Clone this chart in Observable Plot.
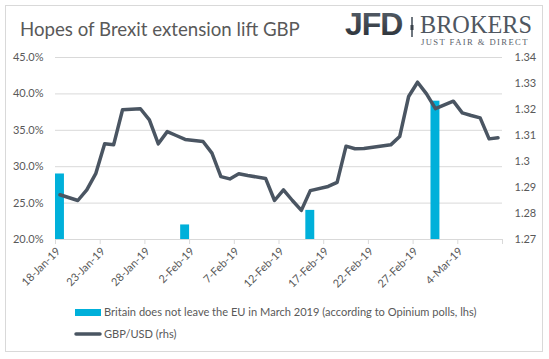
<!DOCTYPE html>
<html><head><meta charset="utf-8">
<script src="https://cdn.jsdelivr.net/npm/d3@7"></script>
<script src="https://cdn.jsdelivr.net/npm/@observablehq/plot@0.6"></script>
<style>
html,body{margin:0;padding:0;background:#fff;}
#wrap{position:relative;width:549px;height:359px;overflow:hidden;font-family:Lato,"Open Sans",sans-serif;color:#595959;}
#frame{position:absolute;left:5px;top:5px;width:538px;height:347px;border:1px solid #d9d9d9;box-sizing:border-box;}
#chart{position:absolute;left:0;top:40px;}
#overlay{position:absolute;left:0;top:0;}
</style>
</head><body>
<div id="wrap">
  <div id="frame"></div>
  <div id="chart"></div>
  <svg id="overlay" width="549" height="359"></svg>
</div>
<script>
// ---- data ----
const lineDates = ["2019-01-18","2019-01-20","2019-01-21","2019-01-22","2019-01-23","2019-01-24","2019-01-25",
  "2019-01-27","2019-01-28","2019-01-29","2019-01-30","2019-01-31","2019-02-01",
  "2019-02-03","2019-02-04","2019-02-05","2019-02-06","2019-02-07","2019-02-08",
  "2019-02-10","2019-02-11","2019-02-12","2019-02-13","2019-02-14","2019-02-15",
  "2019-02-17","2019-02-18","2019-02-19","2019-02-20","2019-02-21","2019-02-22",
  "2019-02-24","2019-02-25","2019-02-26","2019-02-27","2019-02-28","2019-03-01",
  "2019-03-03","2019-03-04","2019-03-05","2019-03-06","2019-03-07","2019-03-08"];
const gbpusd = [1.2872,1.2850,1.2891,1.2953,1.3068,1.3064,1.3199,
  1.3203,1.3160,1.3068,1.3115,1.3100,1.3085,
  1.3077,1.3032,1.2942,1.2933,1.2953,1.2946,
  1.2935,1.2850,1.2891,1.2850,1.2812,1.2888,
  1.2904,1.2920,1.3059,1.3049,1.3050,1.3055,
  1.3064,1.3096,1.3250,1.3305,1.3260,1.3203,
  1.3232,1.3187,1.3177,1.3168,1.3087,1.3091];
const pollDates = ["2019-01-18","2019-02-01","2019-02-15","2019-03-01"];
const pollValues = [29.0, 22.0, 24.0, 39.0];
const xTickDates = ["2019-01-18","2019-01-23","2019-01-28","2019-02-02","2019-02-07","2019-02-12",
  "2019-02-17","2019-02-22","2019-02-27","2019-03-04","2019-03-09"];
const xTickLabels = ["18-Jan-19","23-Jan-19","28-Jan-19","2-Feb-19","7-Feb-19","12-Feb-19",
  "17-Feb-19","22-Feb-19","27-Feb-19","4-Mar-19",""];
const lhsTicks = [20, 25, 30, 35, 40, 45];
const rhsTicks = [1.27, 1.28, 1.29, 1.30, 1.31, 1.32, 1.33, 1.34];
const xDomain = ["2019-01-18", "2019-03-09"];

// ---- helpers ----
const DAY = 864e5;
const parse = s => new Date(s + "T00:00:00Z");
const rMin = 1.27, rMax = 1.34, lMin = 20, lMax = 45;
const toL = v => lMin + (v - rMin) / (rMax - rMin) * (lMax - lMin);
const fromL = d => rMin + (d - lMin) / (lMax - lMin) * (rMax - rMin);

const lineData = lineDates.map((d, i) => ({date: parse(d), v: gbpusd[i]}));
const pollData = pollDates.map((d, i) => ({date: parse(d), v: pollValues[i]}));
const tickDates = xTickDates.map(parse);
const labelOf = new Map(tickDates.map((d, i) => [+d, xTickLabels[i]]));

const chart = Plot.plot({
  width: 549, height: 260,
  marginLeft: 55, marginRight: 47, marginTop: 17, marginBottom: 61,
  style: {fontFamily: "Lato, 'Open Sans', sans-serif", fontSize: "11px", color: "#595959", background: "transparent", overflow: "visible"},
  x: {type: "utc", domain: xDomain.map(parse), axis: null},
  y: {domain: [lMin, lMax], axis: null},
  marks: [
    Plot.gridY(lhsTicks, {stroke: "#d9d9d9", strokeOpacity: 1}),
    Plot.axisY(lhsTicks, {anchor: "left", tickSize: 0, tickPadding: 12, tickFormat: d => d.toFixed(1) + "%", label: null, fill: "#595959"}),
    Plot.axisY(rhsTicks.map(toL), {anchor: "right", tickSize: 0, tickPadding: 12, tickFormat: d => String(+fromL(d).toFixed(2)), label: null, fill: "#595959"}),
    Plot.ruleY([lMin], {stroke: "#d9d9d9"}),
    Plot.axisX(tickDates, {anchor: "bottom", tickSize: 5, stroke: "#d9d9d9", tickFormat: () => "", label: null}),
    Plot.axisX(tickDates.slice(0, -1), {anchor: "bottom", tickSize: 0, tickPadding: 10, dx: 3, tickRotate: -45, tickFormat: d => labelOf.get(+d), label: null, fill: "#595959"}),
    Plot.rect(pollData, {x1: "date", x2: d => new Date(+d.date + DAY), y1: lMin, y2: "v", fill: "#00b0da"}),
    Plot.line(lineData, {x: d => new Date(+d.date + DAY / 2), y: d => toL(d.v), stroke: "#4a5562", strokeWidth: 3.5, strokeLinejoin: "round", strokeLinecap: "round"})
  ]
});
document.getElementById("chart").appendChild(chart);

// ---- title, logo, legend ----
const ov = d3.select("#overlay");
function fit(sel, w) {
  const n = sel.node();
  const fs = parseFloat(sel.attr("font-size"));
  const m = n.getComputedTextLength();
  sel.attr("font-size", (fs * w / m).toFixed(2));
}
const title = ov.append("text").attr("x", 20).attr("y", 36).attr("font-size", 18)
  .attr("font-family", "Lato, 'Open Sans', sans-serif").attr("fill", "#595959")
  .text("Hopes of Brexit extension lift GBP");
fit(title, 280);

const grad = ov.append("defs").append("linearGradient").attr("id", "jfdg").attr("x1", 0).attr("y1", 0).attr("x2", 0).attr("y2", 1);
grad.append("stop").attr("offset", 0).attr("stop-color", "#5a636d");
grad.append("stop").attr("offset", 1).attr("stop-color", "#262c33");
const jfd = ov.append("text").attr("x", 345).attr("y", 35).attr("font-size", 28).attr("font-weight", 900)
  .attr("font-family", "'Liberation Sans', Arial, sans-serif").attr("fill", "url(#jfdg)").attr("letter-spacing", -1)
  .text("JFD");
fit(jfd, 57);
ov.append("rect").attr("x", 411).attr("y", 17).attr("width", 2).attr("height", 20).attr("fill", "#6e767e");
ov.append("rect").attr("x", 410.5).attr("y", 25).attr("width", 3).attr("height", 5).attr("fill", "#3a424b");
const brokers = ov.append("text").attr("x", 420).attr("y", 33).attr("font-size", 24)
  .attr("font-family", "'Liberation Serif', 'DejaVu Serif', serif").attr("fill", "#4f5761")
  .text("BROKERS");
fit(brokers, 112);
const jfdSub = ov.append("text").attr("x", 421).attr("y", 45).attr("font-size", 8)
  .attr("font-family", "'Liberation Serif', 'DejaVu Serif', serif").attr("fill", "#5a626b").attr("letter-spacing", 1.4)
  .text("JUST FAIR & DIRECT");
fit(jfdSub, 110);

ov.append("rect").attr("x", 75).attr("y", 309).attr("width", 26).attr("height", 7).attr("fill", "#00b0da");
const lg1 = ov.append("text").attr("x", 104).attr("y", 315.5).attr("font-size", 12)
  .attr("font-family", "Lato, 'Open Sans', sans-serif").attr("fill", "#595959")
  .text("Britain does not leave the EU in March 2019 (according to Opinium polls, lhs)");
fit(lg1, 373);
ov.append("line").attr("x1", 76).attr("x2", 100).attr("y1", 334).attr("y2", 334)
  .attr("stroke", "#4a5562").attr("stroke-width", 3.5).attr("stroke-linecap", "round");
const lg2 = ov.append("text").attr("x", 104).attr("y", 338).attr("font-size", lg1.attr("font-size"))
  .attr("font-family", "Lato, 'Open Sans', sans-serif").attr("fill", "#595959")
  .text("GBP/USD (rhs)");
</script>
</body></html>
